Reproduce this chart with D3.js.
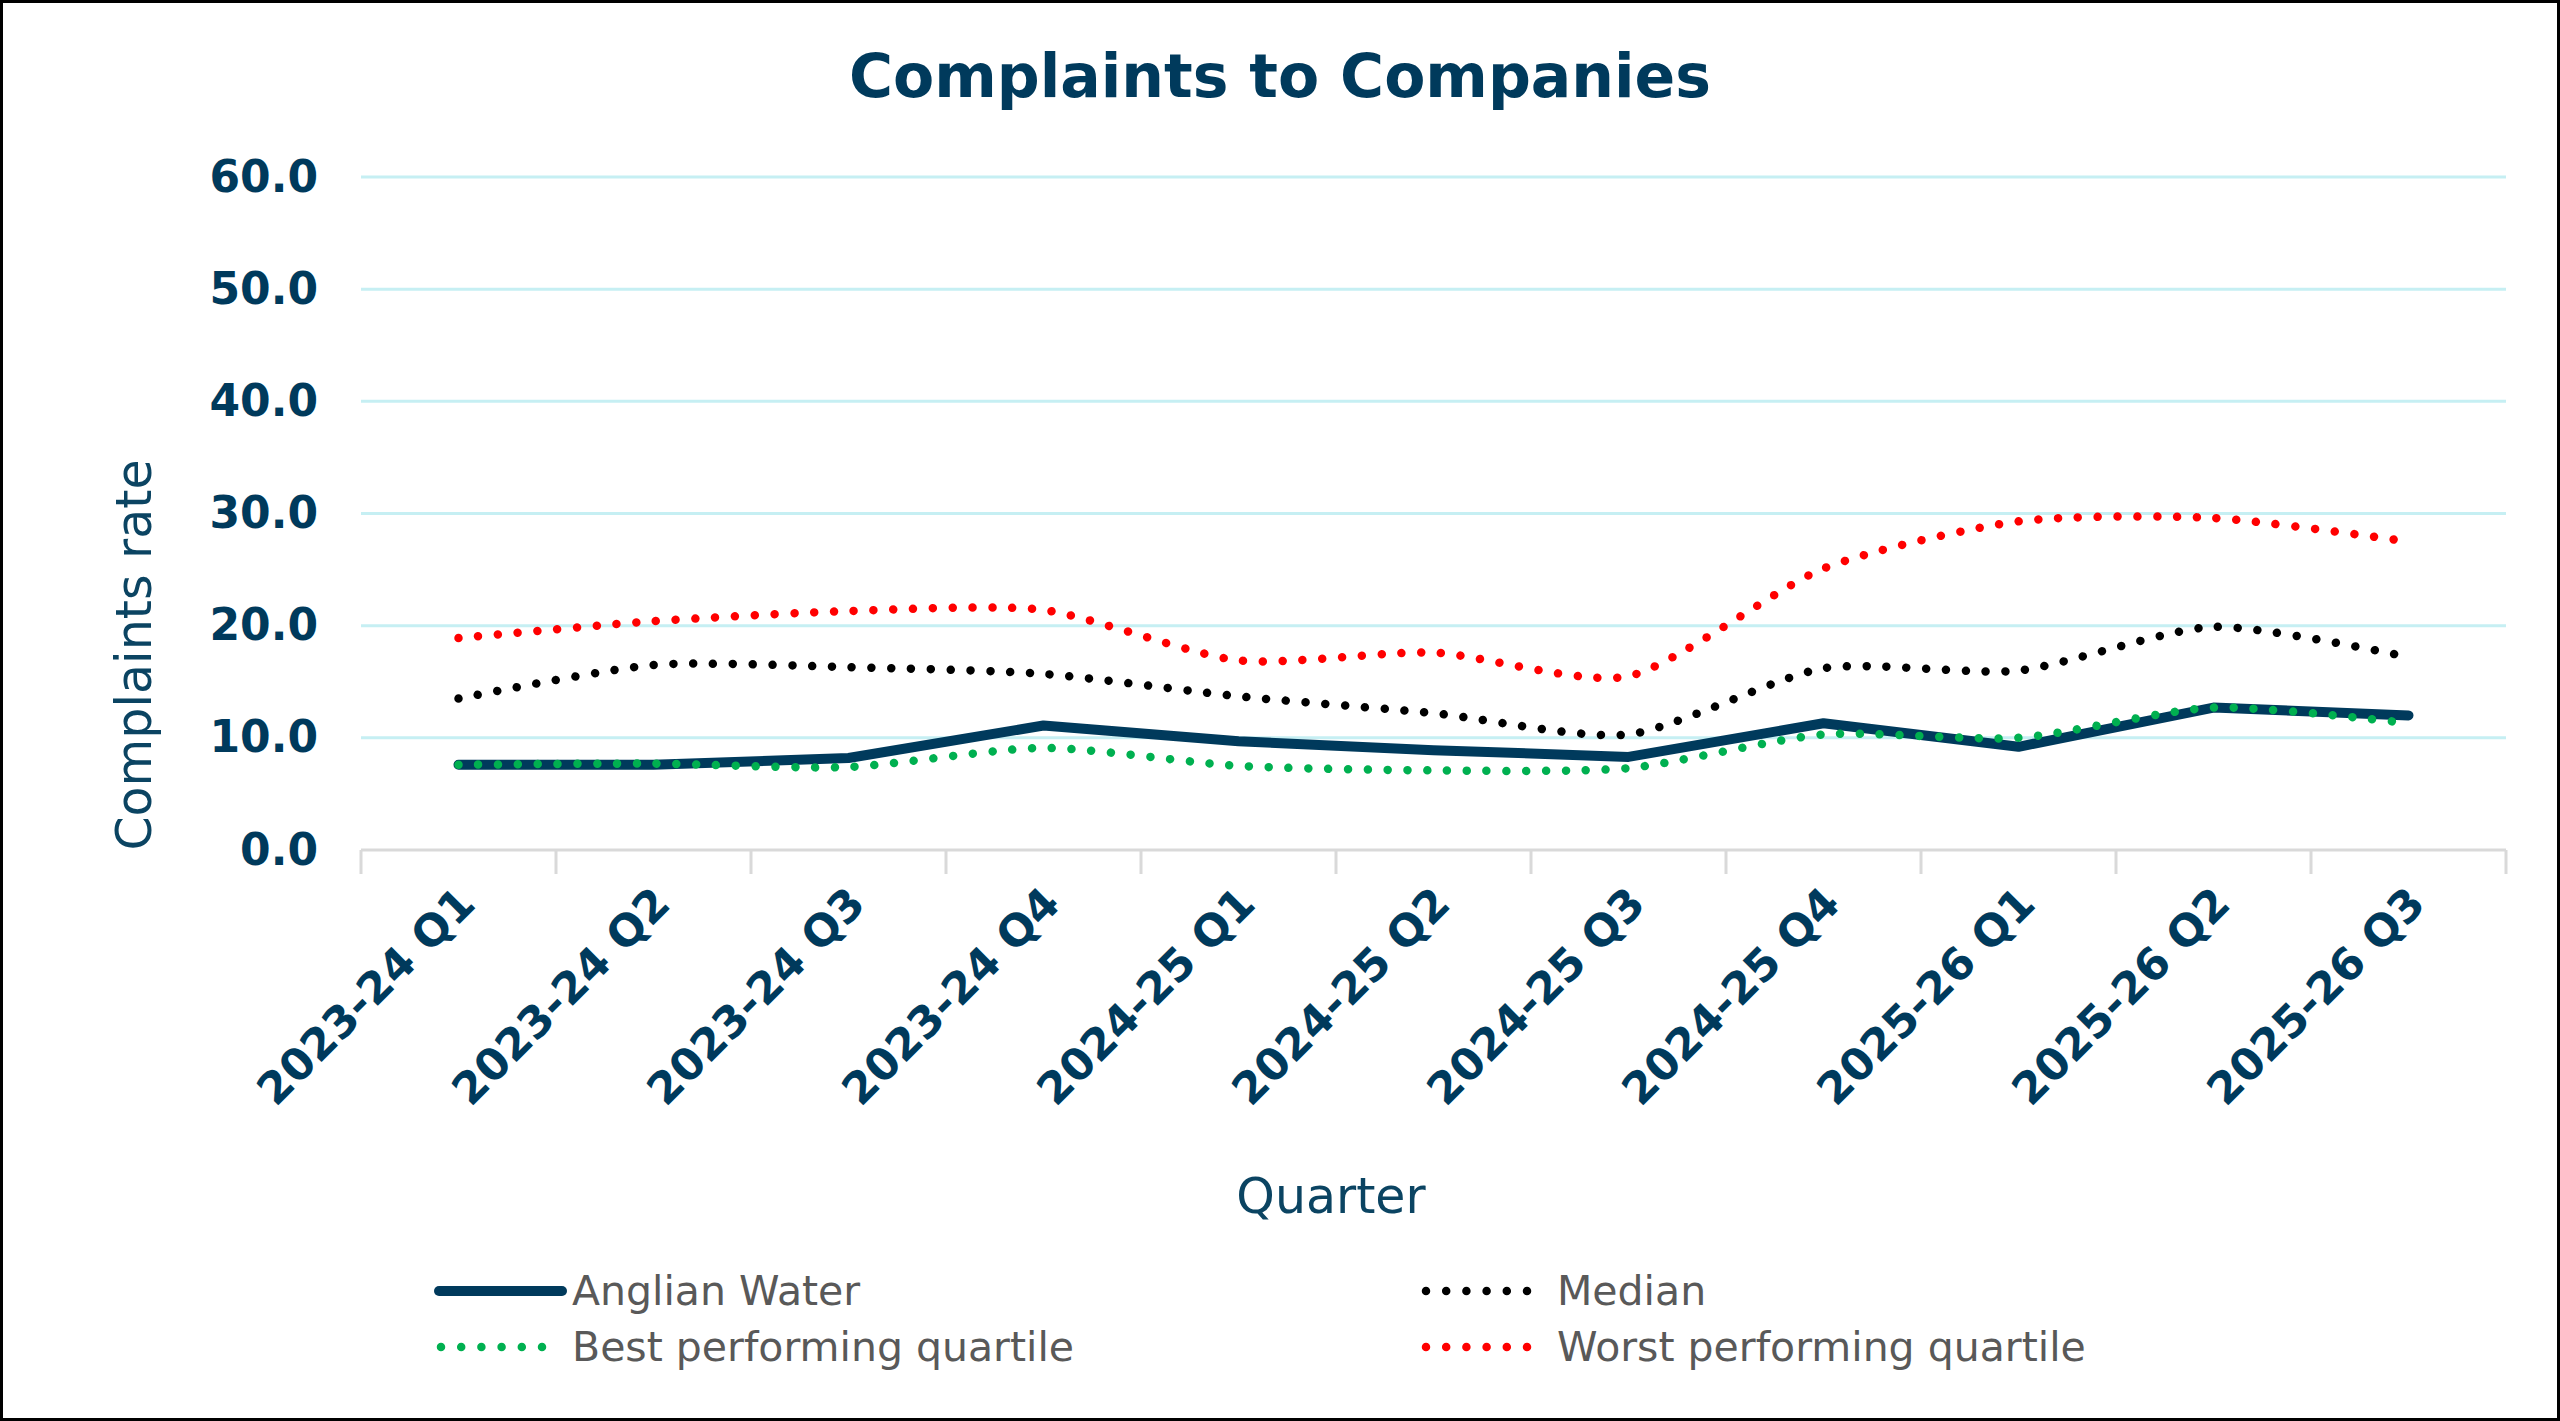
<!DOCTYPE html>
<html>
<head>
<meta charset="utf-8">
<script src="https://cdn.jsdelivr.net/npm/d3@7"></script>
<style>
  body { margin: 0; background: #fff; }
  svg { display: block; }
  text { font-family: "DejaVu Sans", sans-serif; }
</style>
</head>
<body>
<svg width="2560" height="1421"></svg>
<script>
// chart data
const quarters = ["2023-24 Q1", "2023-24 Q2", "2023-24 Q3", "2023-24 Q4",
  "2024-25 Q1", "2024-25 Q2", "2024-25 Q3", "2024-25 Q4",
  "2025-26 Q1", "2025-26 Q2", "2025-26 Q3"];
const anglianWater = [7.6, 7.6, 8.2, 11.1, 9.7, 8.9, 8.3, 11.3, 9.2, 12.7, 12.0];
const median = [13.5, 16.5, 16.3, 15.7, 13.7, 12.2, 10.3, 16.2, 16.0, 19.9, 17.2];
const bestQuartile = [7.6, 7.7, 7.4, 9.1, 7.5, 7.1, 7.3, 10.3, 10.0, 12.7, 11.3];
const worstQuartile = [18.9, 20.4, 21.3, 21.4, 16.9, 17.6, 15.5, 25.1, 29.3, 29.6, 27.5];
const yTicks = [0, 10, 20, 30, 40, 50, 60];

const NAVY = "#003a5c";

const series = [
  { name: "Anglian Water", values: anglianWater, color: NAVY, dotted: false },
  { name: "Median", values: median, color: "#000000", dotted: true },
  { name: "Best performing quartile", values: bestQuartile, color: "#00b050", dotted: true },
  { name: "Worst performing quartile", values: worstQuartile, color: "#ff0000", dotted: true }
];

const svg = d3.select("svg");
const width = +svg.attr("width"), height = +svg.attr("height");
const plotLeft = 361, plotRight = 2506, plotTop = 177, plotBottom = 850;

const x = d3.scaleBand().domain(quarters).range([plotLeft, plotRight]);
const y = d3.scaleLinear().domain([0, 60]).range([plotBottom, plotTop]);

// outer frame
svg.append("rect")
  .attr("x", 1.5).attr("y", 1.5)
  .attr("width", width - 3).attr("height", height - 3)
  .attr("fill", "#fff").attr("stroke", "#000").attr("stroke-width", 3);

svg.append("text")
  .attr("x", 1280).attr("y", 97)
  .attr("text-anchor", "middle")
  .attr("font-size", 60).attr("font-weight", "bold")
  .attr("fill", NAVY)
  .text("Complaints to Companies");

// gridlines
svg.append("g").selectAll("line")
  .data(yTicks.filter(d => d > 0))
  .enter().append("line")
  .attr("x1", plotLeft).attr("x2", plotRight)
  .attr("y1", d => y(d)).attr("y2", d => y(d))
  .attr("stroke", "#c6eff3").attr("stroke-width", 3);

// y axis labels
const yAxis = svg.append("g")
  .attr("transform", `translate(${plotLeft},0)`)
  .call(d3.axisLeft(y).tickValues(yTicks).tickFormat(d3.format(".1f")).tickSize(0).tickPadding(43));
yAxis.select(".domain").remove();
yAxis.selectAll("text")
  .attr("font-family", "DejaVu Sans, sans-serif")
  .attr("font-size", 44).attr("font-weight", "bold")
  .attr("fill", NAVY);

// x axis line + boundary ticks
svg.append("line")
  .attr("x1", plotLeft).attr("x2", plotRight)
  .attr("y1", plotBottom).attr("y2", plotBottom)
  .attr("stroke", "#d9d9d9").attr("stroke-width", 3);
svg.append("g").selectAll("line")
  .data(quarters.map(q => x(q)).concat([plotRight]))
  .enter().append("line")
  .attr("x1", d => d).attr("x2", d => d)
  .attr("y1", plotBottom).attr("y2", plotBottom + 24)
  .attr("stroke", "#d9d9d9").attr("stroke-width", 3);

const xAxis = svg.append("g")
  .attr("transform", `translate(0,${plotBottom})`)
  .call(d3.axisBottom(x).tickSize(0));
xAxis.select(".domain").remove();
xAxis.selectAll("text")
  .attr("x", 0).attr("y", 0).attr("dy", 0)
  .attr("transform", "translate(19,56) rotate(-45)")
  .style("text-anchor", "end")
  .attr("font-family", "DejaVu Sans, sans-serif")
  .attr("font-size", 44).attr("font-weight", "bold")
  .attr("fill", NAVY);

// axis titles
svg.append("text")
  .attr("transform", "translate(151,655) rotate(-90)")
  .attr("text-anchor", "middle")
  .attr("font-size", 49).attr("fill", "#0b4462")
  .text("Complaints rate");

svg.append("text")
  .attr("x", 1331).attr("y", 1213)
  .attr("text-anchor", "middle")
  .attr("font-size", 49).attr("fill", "#0b4462")
  .text("Quarter");

// lines
const cx = q => x(q) + x.bandwidth() / 2;
const straight = d3.line().x((d, i) => cx(quarters[i])).y(d => y(d));
const smooth = d3.line().x((d, i) => cx(quarters[i])).y(d => y(d)).curve(d3.curveCardinal.tension(0.3));

svg.append("g").selectAll("path")
  .data(series)
  .enter().append("path")
  .attr("d", s => s.dotted ? smooth(s.values) : straight(s.values))
  .attr("fill", "none")
  .attr("stroke", s => s.color)
  .attr("stroke-width", s => s.dotted ? 8.5 : 10)
  .attr("stroke-linecap", "round")
  .attr("stroke-linejoin", "round")
  .attr("stroke-dasharray", s => s.dotted ? "0.01 19.8" : null);

// legend (row-major: Anglian, Median / Best, Worst)
const legendCols = [439, 1424], legendRows = [1291, 1347];
const legend = svg.append("g").selectAll("g")
  .data(series)
  .enter().append("g")
  .attr("transform", (s, i) => `translate(${legendCols[i % 2]},${legendRows[Math.floor(i / 2)]})`);

legend.append("line")
  .attr("x1", s => s.dotted ? 2 : 0)
  .attr("x2", s => s.dotted ? 104 : 123)
  .attr("y1", 0).attr("y2", 0)
  .attr("stroke", s => s.color)
  .attr("stroke-width", s => s.dotted ? 8.5 : 10)
  .attr("stroke-linecap", "round")
  .attr("stroke-dasharray", s => s.dotted ? "0.01 20.19" : null);

legend.append("text")
  .attr("x", 133).attr("y", 14)
  .attr("font-size", 41).attr("fill", "#595959")
  .text(s => s.name);
</script>
</body>
</html>
